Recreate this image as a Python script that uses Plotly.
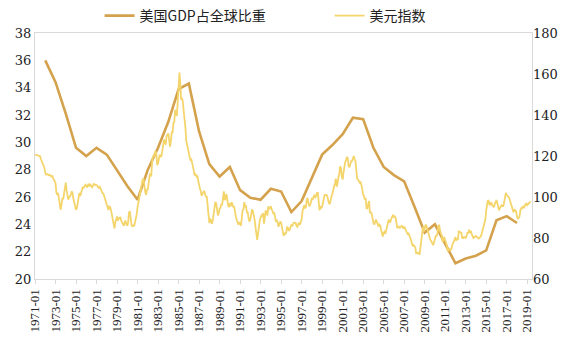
import plotly.graph_objects as go
import pandas as pd

# US share of world GDP (%), annual points plotted at January of each year
gdp_years = list(range(1972, 2019))
gdp_share = [36.0, 34.4, 32.1, 29.6, 29.0, 29.6, 29.1, 27.9, 26.8, 25.8,
             28.0, 29.6, 31.5, 33.9, 34.3, 30.8, 28.4, 27.5, 28.2, 26.5,
             25.95, 25.8, 26.6, 26.4, 24.9, 25.7, 27.4, 29.1, 29.8, 30.6,
             31.8, 31.7, 29.6, 28.2, 27.6, 27.15, 25.3, 23.4, 24.0, 22.6,
             21.15, 21.5, 21.7, 22.1, 24.3, 24.6, 24.1]

# US dollar index, monthly from 1971-01
dxy_monthly = [
    120.6, 120.7, 120.5, 120.3, 120.2, 120.1, 119.9, 118.4, 117.5, 116.8, 116.0, 114.3,  # 1971
    111.8, 111.0, 111.2, 110.9, 110.6, 110.9, 110.5, 110.0, 110.3, 109.4, 108.3, 107.2,  # 1972
    106.8, 102.1, 101.4, 102.0, 99.9, 97.6, 93.8, 96.0, 99.5, 98.9, 102.6, 105.2,  # 1973
    107.0, 103.2, 101.0, 98.7, 99.8, 100.6, 101.1, 102.8, 101.8, 99.0, 96.6, 95.8,  # 1974
    93.8, 94.5, 97.0, 99.5, 102.0, 100.5, 102.5, 104.0, 105.0, 104.5, 105.5, 106.0,  # 1975
    105.5, 104.6, 105.8, 106.4, 105.2, 105.9, 105.4, 104.8, 105.7, 106.4, 106.0, 105.8,  # 1976
    105.9, 105.6, 104.8, 104.4, 104.9, 103.7, 102.0, 101.8, 101.7, 100.3, 99.9, 98.5,  # 1977
    96.6, 95.5, 93.7, 95.4, 95.1, 93.6, 91.6, 89.2, 87.3, 84.7, 87.6, 88.9,  # 1978
    90.5, 88.4, 89.7, 89.6, 90.3, 88.3, 87.3, 86.9, 86.0, 87.8, 88.5, 86.6,  # 1979
    86.0, 87.5, 92.5, 93.0, 88.5, 86.4, 85.5, 86.4, 85.7, 87.3, 89.5, 91.5,  # 1980
    95.0, 97.5, 99.0, 100.5, 104.8, 107.0, 108.5, 109.0, 104.5, 102.5, 101.0, 103.5,  # 1981
    103.6, 107.5, 110.0, 111.5, 110.0, 116.5, 120.0, 119.5, 121.0, 122.5, 121.0, 115.5,  # 1982
    116.5, 118.5, 120.7, 119.5, 120.0, 122.5, 124.5, 128.0, 126.5, 125.5, 129.7, 130.5,  # 1983
    131.0, 128.0, 124.5, 127.0, 131.5, 131.5, 136.0, 136.5, 142.5, 141.0, 139.5, 146.5,  # 1984
    152.0, 160.7, 156.0, 147.5, 148.5, 146.5, 142.0, 139.0, 134.0, 127.5, 125.0, 122.5,  # 1985
    121.5, 119.5, 118.0, 118.3, 116.5, 115.0, 112.5, 110.5, 111.0, 110.0, 110.5, 108.0,  # 1986
    104.5, 104.0, 103.0, 100.5, 101.5, 102.0, 103.0, 101.5, 100.0, 100.5, 95.0, 91.5,  # 1987
    87.3, 89.5, 88.0, 87.0, 88.5, 91.5, 96.0, 97.5, 97.0, 94.0, 91.0, 92.0,  # 1988
    94.5, 94.6, 96.5, 96.0, 101.0, 102.8, 98.5, 99.5, 101.5, 97.5, 96.0, 95.0,  # 1989
    97.0, 95.5, 97.5, 96.5, 95.0, 95.5, 92.5, 90.5, 89.0, 88.0, 86.5, 87.5,  # 1990
    87.3, 86.0, 91.5, 93.5, 94.0, 97.5, 95.4, 95.5, 92.5, 92.5, 89.5, 88.0,  # 1991
    89.0, 92.5, 94.0, 93.0, 91.5, 89.0, 85.5, 82.5, 79.1, 82.0, 86.5, 88.5,  # 1992
    90.0, 91.0, 90.5, 92.2, 87.0, 91.0, 93.5, 92.0, 91.0, 95.4, 94.0, 94.5,  # 1993
    95.5, 94.0, 92.5, 92.0, 92.2, 90.0, 88.0, 88.5, 87.5, 85.5, 86.5, 88.0,  # 1994
    87.5, 85.5, 82.4, 81.0, 82.5, 82.0, 82.5, 85.5, 85.0, 83.5, 84.0, 85.0,  # 1995
    86.5, 86.0, 86.5, 87.5, 87.4, 87.4, 86.0, 85.5, 86.5, 87.5, 86.5, 88.0,  # 1996
    89.0, 93.0, 94.0, 96.0, 94.5, 95.0, 98.7, 99.5, 97.0, 95.5, 96.0, 99.0,  # 1997
    99.5, 99.0, 100.0, 101.0, 99.5, 100.5, 102.0, 102.0, 97.0, 93.5, 95.5, 94.5,  # 1998
    95.4, 98.0, 99.5, 101.0, 101.0, 101.0, 100.5, 98.5, 97.0, 96.5, 99.5, 100.5,  # 1999
    101.5, 104.0, 105.2, 106.5, 109.0, 105.0, 106.5, 109.5, 111.0, 115.0, 114.0, 110.0,  # 2000
    108.5, 112.0, 115.0, 117.0, 118.0, 119.5, 119.0, 115.0, 114.5, 116.5, 117.5, 117.5,  # 2001
    119.0, 120.0, 118.5, 117.5, 113.5, 109.0, 108.5, 107.5, 107.0, 107.5, 106.0, 104.0,  # 2002
    101.0, 100.5, 98.7, 99.5, 94.5, 94.5, 96.5, 98.0, 92.2, 92.5, 92.0, 89.0,  # 2003
    87.5, 86.5, 88.0, 89.0, 88.0, 86.5, 85.6, 86.5, 86.0, 84.0, 81.5, 80.7,  # 2004
    82.5, 83.0, 82.0, 84.0, 85.5, 87.3, 89.0, 87.5, 88.0, 89.5, 90.5, 91.3,  # 2005
    90.0, 90.5, 90.0, 87.5, 84.8, 85.5, 85.5, 85.0, 85.5, 86.0, 85.6, 84.5,  # 2006
    85.5, 84.5, 83.5, 82.4, 82.0, 82.5, 81.5, 81.0, 79.0, 77.5, 76.0, 76.5,  # 2007
    76.0, 75.5, 72.6, 72.5, 72.8, 72.9, 71.8, 75.5, 77.5, 83.5, 85.6, 83.0,  # 2008
    84.5, 86.5, 86.0, 84.5, 82.0, 80.5, 80.0, 79.0, 78.0, 77.0, 76.5, 78.0,  # 2009
    79.5, 81.0, 81.0, 82.0, 86.0, 86.4, 83.5, 82.5, 81.0, 78.0, 79.0, 80.5,  # 2010
    79.0, 77.5, 76.5, 73.5, 74.5, 74.5, 74.0, 74.5, 77.0, 77.5, 78.0, 79.5,  # 2011
    80.5, 79.0, 79.5, 79.5, 83.2, 83.0, 83.0, 82.5, 80.0, 80.0, 80.5, 80.0,  # 2012
    80.0, 81.0, 82.5, 82.5, 84.0, 82.5, 83.5, 82.0, 81.0, 80.0, 80.5, 80.5,  # 2013
    81.0, 80.5, 80.0, 79.7, 80.0, 80.5, 81.0, 82.5, 84.5, 86.0, 87.5, 89.0,  # 2014
    93.5, 95.5, 98.5, 98.0, 96.0, 96.5, 97.5, 96.0, 95.5, 95.0, 96.5, 97.5,  # 2015
    98.5, 97.0, 95.0, 93.5, 94.5, 95.5, 96.0, 95.5, 95.5, 97.5, 100.0, 102.0,  # 2016
    101.0, 100.5, 100.5, 99.5, 98.0, 96.5, 94.5, 93.0, 92.5, 94.0, 93.5, 93.0,  # 2017
    90.5, 89.5, 89.8, 90.5, 93.5, 94.5, 94.5, 95.5, 94.5, 96.0, 96.5, 96.8,  # 2018
    96.0, 96.5, 96.8, 97.5, 97.9,  # 2019
]

tick_years = list(range(1971, 2020, 2))
tick_labels = [f"{y}-01" for y in tick_years]

gdp_x = [f"{y}-01-01" for y in gdp_years]
dxy_x = pd.date_range("1971-01-01", periods=len(dxy_monthly), freq="MS")

GDP_COLOR = "#D4A24C"
DXY_COLOR = "#F4D56C"

fig = go.Figure()
fig.add_trace(go.Scatter(x=gdp_x, y=gdp_share, mode="lines", name="美国GDP占全球比重",
                         line=dict(color=GDP_COLOR, width=2.6), yaxis="y"))
fig.add_trace(go.Scatter(x=dxy_x, y=dxy_monthly, mode="lines", name="美元指数",
                         line=dict(color=DXY_COLOR, width=1.8), yaxis="y2"))

y_font = dict(family="DejaVu Serif", size=13, color="#222")
x_font = dict(family="serif", size=13, color="#222")

fig.update_layout(
    width=569, height=339,
    margin=dict(l=35, r=37, t=33, b=60, autoexpand=False),
    paper_bgcolor="white", plot_bgcolor="white",
    showlegend=True,
    legend=dict(orientation="h", xref="container", yref="container",
                x=0.175, xanchor="left", y=1.0, yanchor="top",
                font=dict(family="Noto Sans CJK SC", size=14, color="#222"),
                entrywidth=185, itemwidth=30, bgcolor="rgba(0,0,0,0)"),
    xaxis=dict(type="date", range=["1971-01-01", "2019-06-20"],
               tickvals=[f"{y}-01-01" for y in tick_years], ticktext=tick_labels,
               tickangle=-90, tickfont=x_font,
               showgrid=False, showline=True, linecolor="#D9D9D9", linewidth=1, mirror=True,
               ticks="outside", ticklen=4, tickcolor="#D9D9D9", zeroline=False,
               automargin=False),
    yaxis=dict(range=[20, 38], dtick=2, tickfont=y_font, showgrid=False,
               showline=True, linecolor="#D9D9D9", linewidth=1, mirror=True,
               ticks="", zeroline=False, automargin=False),
    yaxis2=dict(range=[60, 180], dtick=20, overlaying="y", side="right",
                tickfont=y_font, showgrid=False, showline=False, ticks="",
                zeroline=False, automargin=False),
)

fig.write_html("out.html")
